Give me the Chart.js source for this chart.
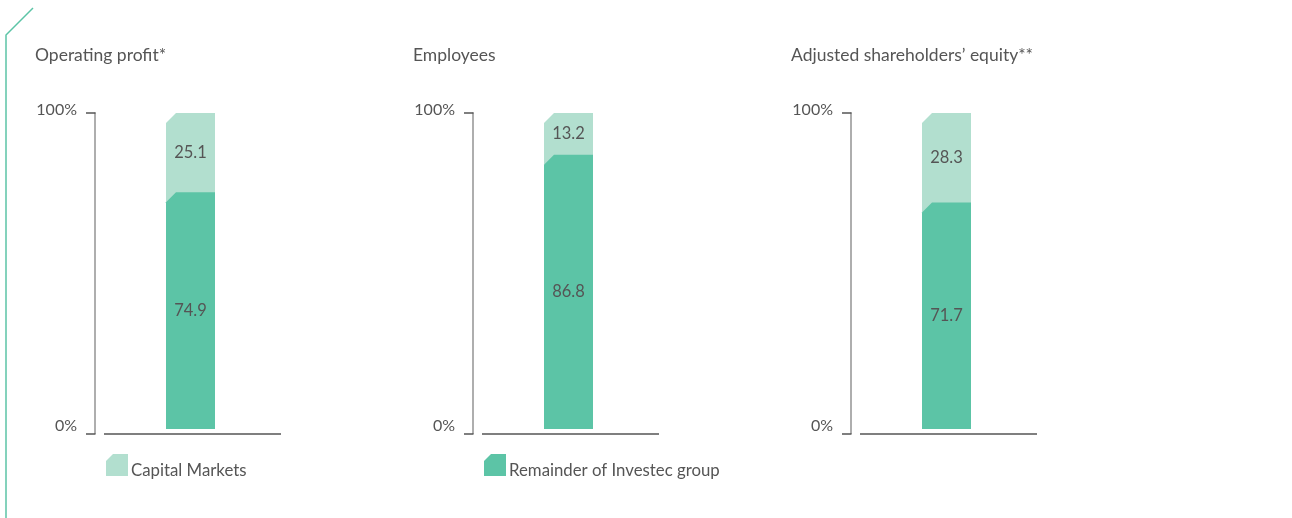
<!DOCTYPE html>
<html>
<head>
<meta charset="utf-8">
<script src="https://cdn.jsdelivr.net/npm/chart.js@4.4.1/dist/chart.umd.min.js"></script>
<style>
  html, body { margin: 0; padding: 0; background: #ffffff; }
  #wrap { position: relative; width: 1292px; height: 518px; overflow: hidden; }
  canvas { position: absolute; top: 0; }
</style>
</head>
<body>
<div id="wrap">
  <canvas id="c0" width="378" height="518" style="left:0px"></canvas>
  <canvas id="c1" width="378" height="518" style="left:378px"></canvas>
  <canvas id="c2" width="378" height="518" style="left:756px"></canvas>
</div>
<script>
// ---- data ----
const panelTitles = ['Operating profit*', 'Employees', 'Adjusted shareholders\u2019 equity**'];
const seriesNames = ['Capital Markets', 'Remainder of Investec group'];
const capitalMarkets = [25.1, 13.2, 28.3];
const remainderOfGroup = [74.9, 86.8, 71.7];
const yTickValues = [0, 100];
const yTickLabels = ['0%', '100%'];

// ---- style ----
const LIGHT = '#b2dfcf';
const DARK = '#5cc4a6';
const TEXT = '#555555';
const FONT = 'Lato, "Open Sans", sans-serif';
const CHAMFER = 10;

const chamferBars = {
  id: 'chamferBars',
  beforeDatasetsDraw(chart) {
    const ctx = chart.ctx;
    const order = [1, 0];
    order.forEach(di => {
      const meta = chart.getDatasetMeta(di);
      const color = chart.data.datasets[di].backgroundColor;
      meta.data.forEach(el => {
        const p = el.getProps(['x', 'y', 'base', 'width'], true);
        const left = p.x - p.width / 2, right = p.x + p.width / 2;
        const top = Math.min(p.y, p.base);
        let bottom = Math.max(p.y, p.base);
        if (di === 1) bottom += CHAMFER;
        ctx.save();
        ctx.fillStyle = color;
        ctx.beginPath();
        ctx.moveTo(left, top + CHAMFER);
        ctx.lineTo(left + CHAMFER, top);
        ctx.lineTo(right, top);
        ctx.lineTo(right, bottom);
        ctx.lineTo(left, bottom);
        ctx.closePath();
        ctx.fill();
        ctx.restore();
      });
    });
    [0, 1].forEach(di => {
      const meta = chart.getDatasetMeta(di);
      const ds = chart.data.datasets[di];
      meta.data.forEach((el, i) => {
        const p = el.getProps(['x', 'y', 'base'], true);
        ctx.save();
        ctx.fillStyle = TEXT;
        ctx.font = '16.5px ' + FONT;
        ctx.textAlign = 'center';
        ctx.textBaseline = 'middle';
        ctx.fillText(ds.data[i].toFixed(1), p.x, (p.y + p.base) / 2);
        ctx.restore();
      });
    });
    return false;
  }
};

const axisDeco = {
  id: 'axisDeco',
  afterDraw(chart, args, opts) {
    const ctx = chart.ctx;
    const y = chart.scales.y;
    const ax = chart.chartArea.left;
    const top = y.getPixelForValue(100);
    const zero = y.getPixelForValue(0);
    const bottom = zero + 5;
    ctx.save();
    ctx.strokeStyle = '#9a9a9a';
    ctx.lineWidth = 1.6;
    ctx.beginPath();
    ctx.moveTo(ax, top - 0.5);
    ctx.lineTo(ax, bottom);
    ctx.stroke();
    ctx.strokeStyle = '#555555';
    ctx.lineWidth = 1.3;
    ctx.beginPath();
    ctx.moveTo(ax - 9, top); ctx.lineTo(ax + 0.5, top);
    ctx.moveTo(ax - 9, bottom); ctx.lineTo(ax + 0.5, bottom);
    ctx.stroke();
    ctx.beginPath();
    ctx.moveTo(ax + 9, bottom);
    ctx.lineTo(ax + 186, bottom);
    ctx.stroke();
    // title
    ctx.fillStyle = TEXT;
    ctx.font = '17.5px ' + FONT;
    ctx.textAlign = 'left';
    ctx.textBaseline = 'alphabetic';
    ctx.fillText(opts.title, 35, 61);
    // legend item
    if (opts.legendIndex !== null) {
      const ds = chart.data.datasets[opts.legendIndex];
      const lx = 106, ly = 454, s = 22, c = 7;
      ctx.fillStyle = ds.backgroundColor;
      ctx.beginPath();
      ctx.moveTo(lx, ly + c);
      ctx.lineTo(lx + c, ly);
      ctx.lineTo(lx + s, ly);
      ctx.lineTo(lx + s, ly + s);
      ctx.lineTo(lx, ly + s);
      ctx.closePath();
      ctx.fill();
      ctx.fillStyle = TEXT;
      ctx.font = '16.8px ' + FONT;
      ctx.fillText(ds.label, lx + 25, ly + 22);
    }
    if (opts.frame) {
      ctx.strokeStyle = '#5cc4a6';
      ctx.lineWidth = 1.5;
      ctx.beginPath();
      ctx.moveTo(33, 8);
      ctx.lineTo(6, 35);
      ctx.lineTo(6, 518);
      ctx.stroke();
    }
    ctx.restore();
  }
};

function makeChart(i) {
  const legendMap = [1, 0, null];
  return new Chart(document.getElementById('c' + i), {
    type: 'bar',
    data: {
      labels: [panelTitles[i]],
      datasets: [
        { label: seriesNames[1], data: [remainderOfGroup[i]], backgroundColor: DARK, barThickness: 49 },
        { label: seriesNames[0], data: [capitalMarkets[i]], backgroundColor: LIGHT, barThickness: 49 }
      ]
    },
    options: {
      responsive: false,
      animation: false,
      devicePixelRatio: 1,
      layout: { padding: { top: 113, bottom: 89, left: 35, right: 92 } },
      plugins: {
        legend: { display: false },
        title: { display: false },
        tooltip: { enabled: false },
        axisDeco: { title: panelTitles[i], legendIndex: legendMap[i], frame: i === 0 }
      },
      scales: {
        x: { stacked: true, display: false },
        y: {
          stacked: true,
          min: 0, max: 100,
          afterBuildTicks: (s) => { s.ticks = yTickValues.map(v => ({ value: v })); },
          afterFit: (s) => { s.width = 60; },
          grid: { display: false, drawTicks: false },
          border: { display: false },
          ticks: {
            padding: 18,
            labelOffset: -3.5,
            color: TEXT,
            font: { family: FONT, size: 16 },
            callback: (v) => yTickLabels[yTickValues.indexOf(v)]
          }
        }
      }
    },
    plugins: [chamferBars, axisDeco]
  });
}

[0, 1, 2].forEach(makeChart);
</script>
</body>
</html>
